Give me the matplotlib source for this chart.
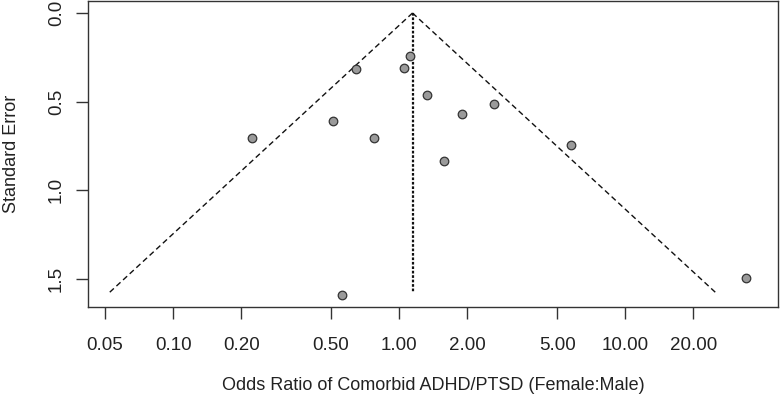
import numpy as np
import matplotlib
matplotlib.use("Agg")
import matplotlib.pyplot as plt

plt.rcParams['font.family'] = ['Liberation Sans', 'DejaVu Sans']

# study estimates (odds ratios) and standard errors
odds = [0.223, 0.512, 0.647, 0.778, 1.114, 1.049, 1.325, 2.64, 1.905, 5.75, 1.586, 0.559, 34.3]
se = [0.705, 0.611, 0.316, 0.705, 0.241, 0.308, 0.464, 0.511, 0.571, 0.746, 0.834, 1.588, 1.494]

pooled = 1.146      # summary odds ratio (apex of funnel)
se_max = 1.577      # funnel drawn down to this SE

xticks = [0.05, 0.10, 0.20, 0.50, 1.00, 2.00, 5.00, 10.00, 20.00]
yticks = [0.0, 0.5, 1.0, 1.5]

txt = '#222222'

fig = plt.figure(figsize=(7.82, 3.99), dpi=100)
ax = fig.add_axes([0.1125, 0.2306, 0.8825, 0.767])

# funnel
s = np.array([0.0, se_max])
lo = np.exp(np.log(pooled) - 1.96 * s)
hi = np.exp(np.log(pooled) + 1.96 * s)
ax.plot(lo, s, color='#111111', lw=1.0, ls=(0, (4, 2.5)))
ax.plot(hi, s, color='#111111', lw=1.0, ls=(0, (4, 2.5)))
ax.plot([pooled, pooled], [0, se_max], color='#111111', lw=1.6, ls=(0, (1.2, 0.8)))

ax.scatter(odds, se, s=38, c='#9a9a9a', edgecolors='#333333', linewidths=0.9, zorder=3)

ax.set_xscale('log')
ax.set_xlim(0.042, 47.5)
ax.set_ylim(1.657, -0.068)
ax.set_xticks(xticks)
ax.set_xticklabels(['%.2f' % v for v in xticks])
ax.minorticks_off()
ax.set_yticks(yticks)
ax.set_yticklabels(['%.1f' % v for v in yticks], rotation=90, va='center')

ax.tick_params(axis='both', direction='out', length=8.5, width=1.0, color='#333333',
               labelsize=13.5, labelcolor=txt)
ax.tick_params(axis='x', pad=13)
ax.tick_params(axis='y', pad=8)

for sp in ax.spines.values():
    sp.set_color('#333333')
    sp.set_linewidth(1.0)

ax.set_xlabel('Odds Ratio of Comorbid ADHD/PTSD (Female:Male)', fontsize=13, color=txt, labelpad=17)
ax.set_ylabel('Standard Error', fontsize=13, color=txt, labelpad=20)

fig.savefig('out.png', dpi=100)
